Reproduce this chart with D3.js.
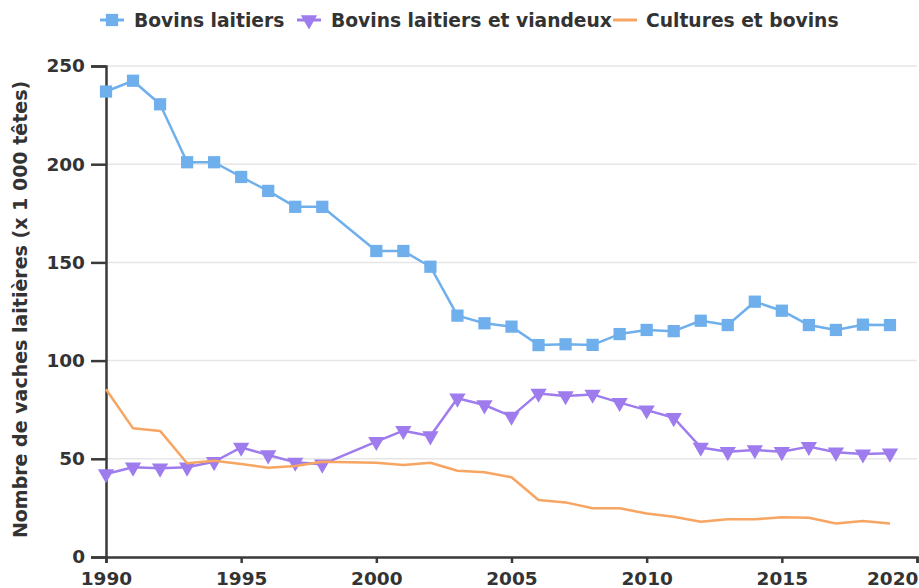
<!DOCTYPE html>
<html>
<head>
<meta charset="utf-8">
<script src="https://cdn.jsdelivr.net/npm/d3@7"></script>
<style>
  html, body { margin: 0; padding: 0; background: #fff; }
  svg { display: block; }
  text { font-family: "DejaVu Sans", sans-serif; font-weight: bold; fill: #333; }
</style>
</head>
<body>
<svg id="chart" width="919" height="588"></svg>
<script>
// Years surveyed (no survey in 1999)
const years = [1990, 1991, 1992, 1993, 1994, 1995, 1996, 1997, 1998,
               2000, 2001, 2002, 2003, 2004, 2005, 2006, 2007, 2008, 2009,
               2010, 2011, 2012, 2013, 2014, 2015, 2016, 2017, 2018, 2019];

// Dairy cows, thousands of head, by farm type
const bovinsLaitiers = [237, 242.5, 230.5, 201, 201, 193.5, 186.4, 178.3, 178.3,
                        155.8, 155.8, 147.8, 122.9, 119, 117.3, 107.9, 108.3, 108, 113.5,
                        115.6, 115, 120.3, 118.1, 130, 125.4, 118.1, 115.6, 118.3, 118.1];
const bovinsLaitiersViandeux = [42.3, 45.7, 45.2, 45.7, 48.5, 55.8, 51.9, 48.2, 47.2,
                                58.7, 64.3, 61.6, 80.8, 77.4, 71.6, 83.3, 82, 82.8, 78.6,
                                74.8, 70.9, 55.8, 53.6, 54.5, 53.6, 56.2, 53.3, 52.4, 52.8];
const culturesEtBovins = [85.4, 65.5, 64.2, 47.7, 49, 47.4, 45.5, 46.3, 48.5,
                          48, 46.8, 48, 43.9, 43.2, 40.6, 29, 27.8, 24.8, 24.8,
                          22.2, 20.5, 18, 19.2, 19.2, 20.2, 20, 17.1, 18.3, 17.1];

const seriesNames = ["Bovins laitiers", "Bovins laitiers et viandeux", "Cultures et bovins"];
const yTicks = [0, 50, 100, 150, 200, 250];
const xTicks = [1990, 1995, 2000, 2005, 2010, 2015, 2020];
const yTitle = "Nombre de vaches laitières (x 1 000 têtes)";

const colors = ["#6fb0ec", "#9e7cee", "#f7a562"];
const symbols = ["square", "triangleDown", "none"];

const svg = d3.select("#chart");
const plotLeft = 106, plotRight = 917, plotTop = 66, plotBottom = 557;
const tickFont = 18.5, legendFont = 18.7, titleFont = 19;

const x = d3.scaleLinear().domain([1990, 2020]).range([plotLeft, plotRight]);
const y = d3.scaleLinear().domain([0, 250]).range([plotBottom, plotTop]);

// horizontal grid
svg.append("g")
  .selectAll("line")
  .data(yTicks.slice(1))
  .join("line")
  .attr("x1", plotLeft).attr("x2", plotRight)
  .attr("y1", d => y(d)).attr("y2", d => y(d))
  .attr("stroke", "#e6e6e6").attr("stroke-width", 1.5);

// axes
const xAxis = d3.axisBottom(x).tickValues(xTicks).tickFormat(d3.format("d"))
  .tickSize(6).tickSizeOuter(6).tickPadding(9);
const gx = svg.append("g").attr("transform", `translate(0,${plotBottom})`).call(xAxis);

const yAxis = d3.axisLeft(y).tickValues(yTicks).tickSize(15).tickSizeOuter(15).tickPadding(6);
const gy = svg.append("g").attr("transform", `translate(${plotLeft},0)`).call(yAxis);

[gx, gy].forEach(g => {
  g.selectAll("path.domain").attr("stroke", "#3a3a3a").attr("stroke-width", 2.5);
  g.selectAll(".tick line").attr("stroke", "#3a3a3a").attr("stroke-width", 2.5);
  g.selectAll(".tick text").attr("font-size", tickFont).attr("font-family", "DejaVu Sans")
    .attr("font-weight", "bold").attr("fill", "#333");
});

// keep the last year label inside the chart area
gx.selectAll(".tick text")
  .filter(d => d === xTicks[xTicks.length - 1])
  .attr("text-anchor", "end")
  .attr("x", 1);

// y-axis title
svg.append("text")
  .attr("transform", `translate(27,${(plotTop + plotBottom) / 2 - 2}) rotate(-90)`)
  .attr("text-anchor", "middle")
  .attr("font-size", titleFont)
  .text(yTitle);

const seriesValues = [bovinsLaitiers, bovinsLaitiersViandeux, culturesEtBovins];

const line = d3.line().x(d => x(d[0])).y(d => y(d[1]));

const squareSym = d3.symbol().type(d3.symbolSquare).size(150);
const triSym = d3.symbol().type(d3.symbolTriangle).size(115);

seriesValues.forEach((vals, i) => {
  const pts = years.map((yr, k) => [yr, vals[k]]);
  svg.append("path")
    .datum(pts)
    .attr("d", line)
    .attr("fill", "none")
    .attr("stroke", colors[i])
    .attr("stroke-width", 2.5)
    .attr("stroke-linejoin", "round");

  if (symbols[i] === "square") {
    svg.append("g").selectAll("path").data(pts).join("path")
      .attr("d", squareSym)
      .attr("transform", d => `translate(${x(d[0])},${y(d[1])})`)
      .attr("fill", colors[i]);
  } else if (symbols[i] === "triangleDown") {
    svg.append("g").selectAll("path").data(pts).join("path")
      .attr("d", triSym)
      .attr("transform", d => `translate(${x(d[0])},${y(d[1])}) rotate(180)`)
      .attr("fill", colors[i]);
  }
});

// legend
const legendX = [[100, 134], [297, 331], [613, 646]];
const legendY = 20;
const lg = svg.append("g");
seriesNames.forEach((name, i) => {
  const [mx, tx] = legendX[i];
  lg.append("line")
    .attr("x1", mx).attr("x2", mx + 24)
    .attr("y1", legendY).attr("y2", legendY)
    .attr("stroke", colors[i]).attr("stroke-width", 3);
  if (symbols[i] === "square") {
    lg.append("path").attr("d", squareSym)
      .attr("transform", `translate(${mx + 12},${legendY})`).attr("fill", colors[i]);
  } else if (symbols[i] === "triangleDown") {
    lg.append("path").attr("d", triSym)
      .attr("transform", `translate(${mx + 12},${legendY}) rotate(180)`).attr("fill", colors[i]);
  }
  lg.append("text")
    .attr("x", tx).attr("y", legendY + 7)
    .attr("font-size", legendFont)
    .text(name);
});
</script>
</body>
</html>
